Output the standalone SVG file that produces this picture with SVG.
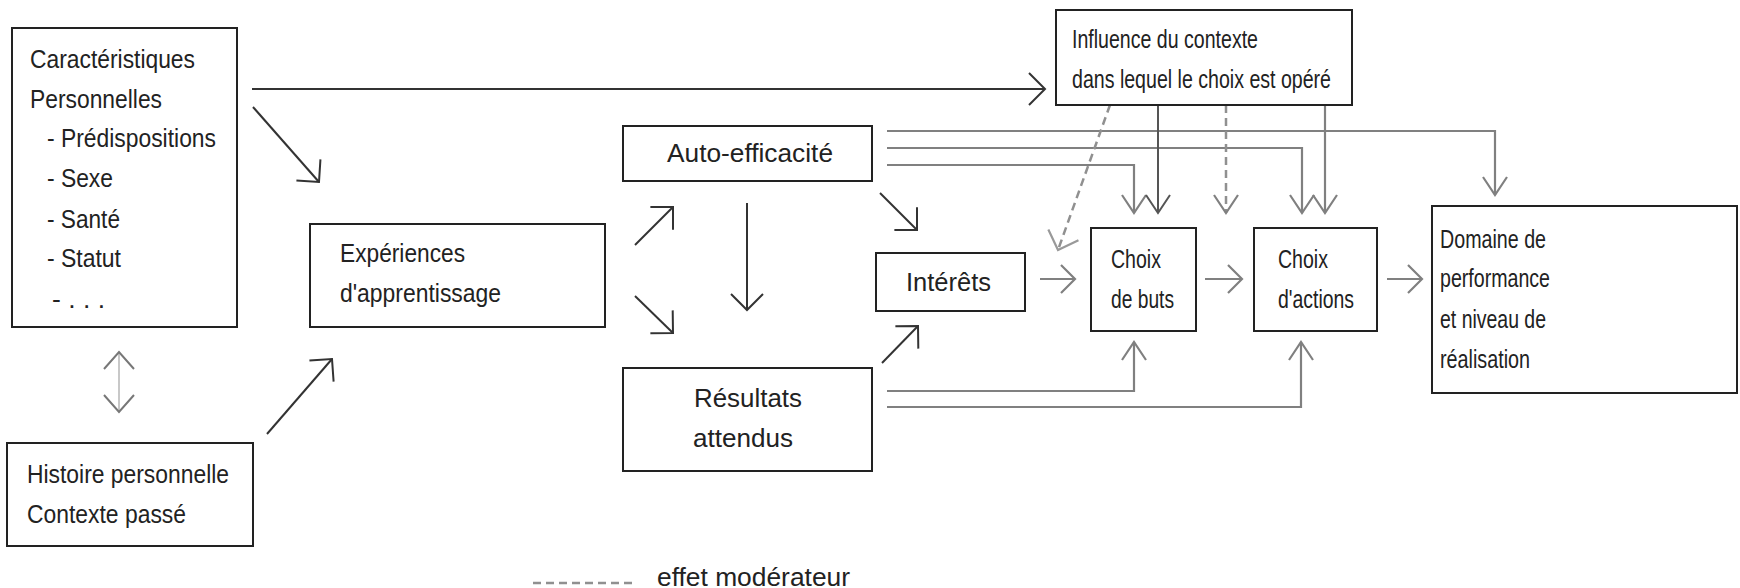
<svg xmlns="http://www.w3.org/2000/svg" width="1740" height="588" viewBox="0 0 1740 588">
<style>
  .box { fill: #fff; stroke: #222; stroke-width: 2; }
  text { font-family: "Liberation Sans", Arial, sans-serif; font-size: 25px; fill: #222; }
  .dk { fill: none; stroke: #333; stroke-width: 2; }
  .gr { fill: none; stroke: #808080; stroke-width: 2.2; }
  .md { fill: none; stroke: #555; stroke-width: 2; }
  .ds { fill: none; stroke: #909090; stroke-width: 2.5; stroke-dasharray: 8 5; }
</style>
<defs>
  <marker id="mDk" markerUnits="userSpaceOnUse" markerWidth="40" markerHeight="40" viewBox="-20 -20 40 40" refX="0" refY="0" orient="auto" overflow="visible">
    <path d="M-16,-16 L0,0 L-16,16" fill="none" stroke="#333" stroke-width="2"/>
  </marker>
  <marker id="mGr" markerUnits="userSpaceOnUse" markerWidth="40" markerHeight="40" viewBox="-20 -20 40 40" refX="0" refY="0" orient="auto" overflow="visible">
    <path d="M-14,-14 L0,0 L-14,14" fill="none" stroke="#808080" stroke-width="2.2"/>
  </marker>
  <marker id="mGrB" markerUnits="userSpaceOnUse" markerWidth="40" markerHeight="40" viewBox="-20 -20 40 40" refX="0" refY="0" orient="auto-start-reverse" overflow="visible">
    <path d="M-17,-15 L0,0 L-17,15" fill="none" stroke="#777" stroke-width="2"/>
  </marker>
  <marker id="mGrN" markerUnits="userSpaceOnUse" markerWidth="40" markerHeight="40" viewBox="-20 -20 40 40" refX="0" refY="0" orient="auto" overflow="visible">
    <path d="M-18,-12 L0,0 L-18,12" fill="none" stroke="#808080" stroke-width="2.2"/>
  </marker>
  <marker id="mMdN" markerUnits="userSpaceOnUse" markerWidth="40" markerHeight="40" viewBox="-20 -20 40 40" refX="0" refY="0" orient="auto" overflow="visible">
    <path d="M-18,-12 L0,0 L-18,12" fill="none" stroke="#555" stroke-width="2"/>
  </marker>
  <marker id="mDs" markerUnits="userSpaceOnUse" markerWidth="40" markerHeight="40" viewBox="-20 -20 40 40" refX="0" refY="0" orient="auto" overflow="visible">
    <path d="M-16,-16 L0,0 L-16,16" fill="none" stroke="#999" stroke-width="2.2"/>
  </marker>
</defs>
<rect width="1740" height="588" fill="#fff"/>

<g id="connectors">
  <line class="dk" x1="252" y1="89" x2="1045" y2="89" marker-end="url(#mDk)"/>
  <line class="dk" x1="253" y1="107" x2="319" y2="182" marker-end="url(#mDk)"/>
  <line class="dk" x1="267" y1="434" x2="332" y2="359" marker-end="url(#mDk)"/>
  <line x1="119" y1="352" x2="119" y2="412" stroke="#c8c8c8" stroke-width="2" marker-start="url(#mGrB)" marker-end="url(#mGrB)"/>
  <line class="dk" x1="635" y1="245" x2="673" y2="207" marker-end="url(#mDk)"/>
  <line class="dk" x1="635" y1="296" x2="673" y2="333" marker-end="url(#mDk)"/>
  <line class="dk" x1="747" y1="203" x2="747" y2="310" marker-end="url(#mDk)"/>
  <line class="dk" x1="880" y1="193" x2="917" y2="230" marker-end="url(#mDk)"/>
  <line class="dk" x1="882" y1="363" x2="918" y2="326" marker-end="url(#mDk)"/>
  <line class="gr" x1="1040" y1="279" x2="1075" y2="279" marker-end="url(#mGr)"/>
  <line class="gr" x1="1205" y1="279" x2="1242" y2="279" marker-end="url(#mGr)"/>
  <line class="gr" x1="1387" y1="279" x2="1422" y2="279" marker-end="url(#mGr)"/>
  <polyline class="gr" points="887,131 1495,131 1495,195" stroke="#9a9a9a" marker-end="url(#mGrN)"/>
  <polyline class="gr" points="887,148 1302,148 1302,213" marker-end="url(#mGrN)"/>
  <polyline class="gr" points="887,165 1134,165 1134,213" marker-end="url(#mGrN)"/>
  <line class="md" x1="1158" y1="105" x2="1158" y2="213" marker-end="url(#mMdN)"/>
  <line class="gr" x1="1325" y1="105" x2="1325" y2="213" marker-end="url(#mGrN)"/>
  <line class="ds" x1="1226" y1="105" x2="1226" y2="213" marker-end="url(#mGrN)"/>
  <line class="ds" x1="1110" y1="105" x2="1058" y2="250" marker-end="url(#mDs)"/>
  <polyline class="gr" points="887,391 1134,391 1134,342" marker-end="url(#mGrN)"/>
  <polyline class="gr" points="887,407 1301,407 1301,342" marker-end="url(#mGrN)"/>
</g>

<g id="caracteristiques">
  <rect class="box" x="12" y="28" width="225" height="299"/>
  <text x="30" y="68" textLength="165" lengthAdjust="spacingAndGlyphs">Caractéristiques</text>
  <text x="30" y="108" textLength="132" lengthAdjust="spacingAndGlyphs">Personnelles</text>
  <text x="47" y="147" textLength="169" lengthAdjust="spacingAndGlyphs">- Prédispositions</text>
  <text x="47" y="187" textLength="66" lengthAdjust="spacingAndGlyphs">- Sexe</text>
  <text x="47" y="228" textLength="73" lengthAdjust="spacingAndGlyphs">- Santé</text>
  <text x="47" y="267" textLength="74" lengthAdjust="spacingAndGlyphs">- Statut</text>
  <text x="52" y="308" textLength="53" lengthAdjust="spacingAndGlyphs">- . . .</text>
</g>

<g id="histoire">
  <rect class="box" x="7" y="443" width="246" height="103"/>
  <text x="27" y="483" textLength="202" lengthAdjust="spacingAndGlyphs">Histoire personnelle</text>
  <text x="27" y="523" textLength="159" lengthAdjust="spacingAndGlyphs">Contexte passé</text>
</g>

<g id="experiences">
  <rect class="box" x="310" y="224" width="295" height="103"/>
  <text x="340" y="262" textLength="125" lengthAdjust="spacingAndGlyphs">Expériences</text>
  <text x="340" y="302" textLength="161" lengthAdjust="spacingAndGlyphs">d'apprentissage</text>
</g>

<g id="auto-efficacite">
  <rect class="box" x="623" y="126" width="249" height="55"/>
  <text x="667" y="162" textLength="166" lengthAdjust="spacingAndGlyphs">Auto-efficacité</text>
</g>

<g id="resultats">
  <rect class="box" x="623" y="368" width="249" height="103"/>
  <text x="694" y="407" textLength="108" lengthAdjust="spacingAndGlyphs">Résultats</text>
  <text x="693" y="447" textLength="100" lengthAdjust="spacingAndGlyphs">attendus</text>
</g>

<g id="interets">
  <rect class="box" x="876" y="253" width="149" height="58"/>
  <text x="906" y="291" textLength="85" lengthAdjust="spacingAndGlyphs">Intérêts</text>
</g>

<g id="influence">
  <rect class="box" x="1056" y="10" width="296" height="95"/>
  <text x="1072" y="48" textLength="186" lengthAdjust="spacingAndGlyphs">Influence du contexte</text>
  <text x="1072" y="88" textLength="259" lengthAdjust="spacingAndGlyphs">dans lequel le choix est opéré</text>
</g>

<g id="choix-buts">
  <rect class="box" x="1091" y="228" width="105" height="103"/>
  <text x="1111" y="268" textLength="50" lengthAdjust="spacingAndGlyphs">Choix</text>
  <text x="1111" y="308" textLength="63" lengthAdjust="spacingAndGlyphs">de buts</text>
</g>

<g id="choix-actions">
  <rect class="box" x="1254" y="228" width="123" height="103"/>
  <text x="1278" y="268" textLength="50" lengthAdjust="spacingAndGlyphs">Choix</text>
  <text x="1278" y="308" textLength="76" lengthAdjust="spacingAndGlyphs">d'actions</text>
</g>

<g id="domaine">
  <rect class="box" x="1432" y="206" width="305" height="187"/>
  <text x="1440" y="248" textLength="106" lengthAdjust="spacingAndGlyphs">Domaine de</text>
  <text x="1440" y="287" textLength="110" lengthAdjust="spacingAndGlyphs">performance</text>
  <text x="1440" y="328" textLength="106" lengthAdjust="spacingAndGlyphs">et niveau de</text>
  <text x="1440" y="368" textLength="90" lengthAdjust="spacingAndGlyphs">réalisation</text>
</g>

<g id="legende">
  <line class="ds" x1="533" y1="583" x2="637" y2="583" stroke-dasharray="9 4"/>
  <text x="657" y="586" textLength="193" lengthAdjust="spacingAndGlyphs">effet modérateur</text>
</g>
</svg>
